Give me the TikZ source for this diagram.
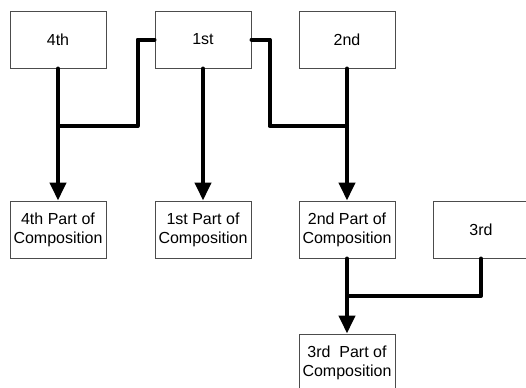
\documentclass[tikz,border=0pt]{standalone}
\usepackage{fontspec}
\setmainfont{Liberation Sans}
\usetikzlibrary{arrows.meta}

\tikzset{
  box/.style={draw=black!70, line width=.5pt, minimum width=48pt,
    minimum height=28.5pt, inner sep=0pt, align=center,
    font=\fontsize{8}{9.5}\selectfont},
  link/.style={line width=2pt, line cap=round, line join=round},
  feed/.style={link, -{Triangle[width=8pt,length=9pt]}},
}

\begin{document}
\begin{tikzpicture}[x=0.5pt,y=-0.5pt]
  \clip (0,0) rectangle (526,387);

  % Sources on the top row
  \foreach \nm/\x/\lab in {fourth/58/4th, first/203/1st, second/347/2nd} {
    \node [box] (\nm) at (\x,39.5) {\lab};
  }
  \node [box] (third) at (481,229.5) {3rd};

  % Parts of the composition
  \foreach \nm/\x/\lab in {fourth/58/4th, first/203/1st, second/347/2nd} {
    \node [box] (\nm-part) at (\x,229.5) {\lab{} Part of\\Composition};
  }
  \node [box] (third-part) at (347,362.5) {3rd\ \ Part of\\Composition};

  % Joints where the side lines meet
  \coordinate (j4) at (58,126);
  \coordinate (j2) at (347,126);
  \coordinate (j3) at (347,296);

  % Connectors
  \draw [link] (first.west) -- ++(-17,0) |- (j4);
  \draw [link] (first.east) -- ++(18,0) |- (j2);
  \draw [link] (third) |- (j3);
  \foreach \nm in {fourth, first, second} {
    \draw [feed] (\nm) -- (\nm-part);
  }
  \draw [feed] (second-part) -- (third-part);
\end{tikzpicture}
\end{document}
